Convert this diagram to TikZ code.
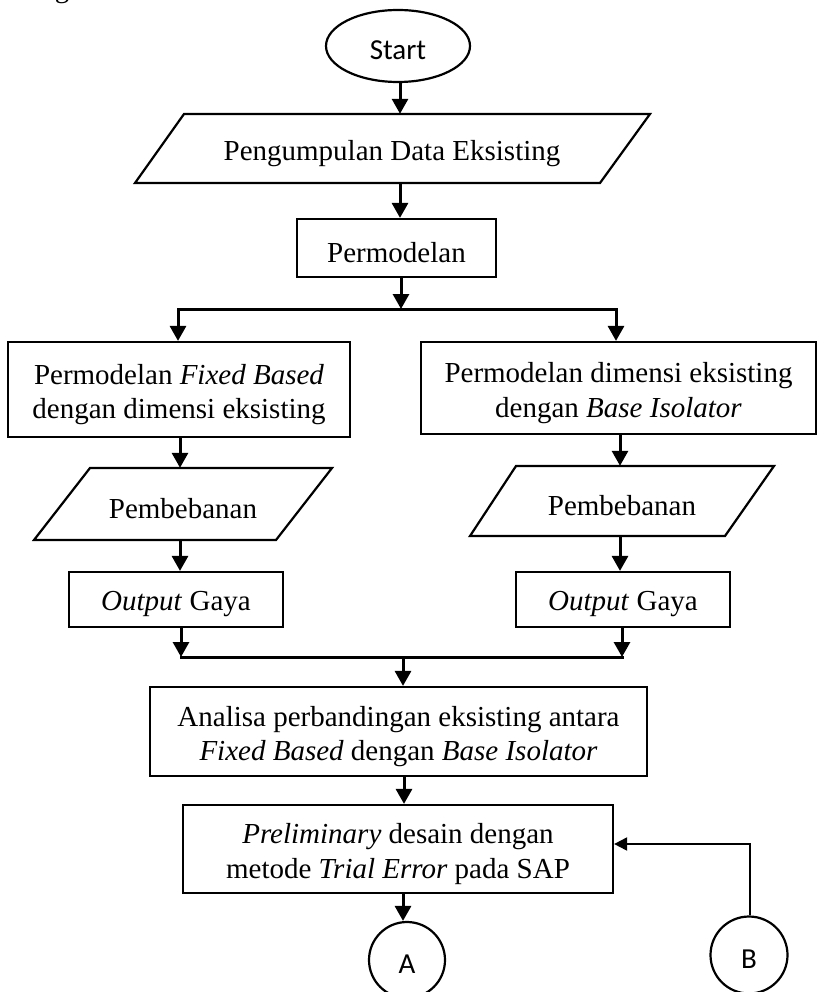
\documentclass[tikz,border=0pt]{standalone}
\usepackage{fontspec}
\setmainfont{Liberation Serif}
\newfontfamily\calibrifont{Carlito}
\usetikzlibrary{arrows.meta,shapes.geometric}

\begin{document}
\begin{tikzpicture}[x=1pt,y=-1pt,
  serif/.style={font=\fontsize{29}{34.5}\selectfont},
  plain/.style={inner sep=0pt,align=center,serif},
  txt/.style={label={[plain,yshift=-5pt]center:{#1}}},
  stxt/.style={label={[inner sep=0pt,font=\calibrifont\fontsize{29}{34}\selectfont,yshift=-4pt]center:{#1}}},
  box/.style={draw,line width=2.2pt,inner sep=0pt},
  slant/.style={line width=2.2pt,line join=miter},
  term/.style={draw,ellipse,line width=2.2pt,inner sep=0pt},
  flow/.style={line width=3pt,-{Triangle[length=15pt,width=16pt]}},
  link/.style={line width=3pt,line cap=rect},
  back/.style={line width=2pt,-{Triangle[length=13pt,width=13pt]}}
]
\useasboundingbox (0,0) rectangle (818,992);

% cut-off descender of the preceding line of text
\begin{scope}
  \clip (0,0) rectangle (818,992);
  \node[serif,anchor=base,inner sep=0pt] (gfrag) at (62,-2) {g};
\end{scope}

% column guides
\coordinate (cm) at (400,0);
\coordinate (cn) at (404,0);
\coordinate (cl) at (180,0);
\coordinate (cr) at (620,0);

% terminator
\node[term,minimum width=144pt,minimum height=72pt,stxt=Start] (start) at (398,46) {};

% data collection (parallelogram)
\draw[slant] (184,114) -- (650,114) -- (600,183) -- (135,183) -- cycle;
\node[minimum width=466pt,minimum height=69pt,inner sep=0pt,txt=Pengumpulan Data Eksisting] (data) at (392,148.5) {};

% modelling
\node[box,minimum width=199pt,minimum height=58pt,txt=Permodelan] (perm) at (396.5,248) {};

% two branches
\node[box,minimum width=342pt,minimum height=95pt,
  txt={Permodelan \textit{Fixed Based}\\dengan dimensi eksisting}] (fixed) at (179,389.5) {};
\node[box,minimum width=395pt,minimum height=92pt,
  txt={Permodelan dimensi eksisting\\dengan \textit{Base Isolator}}] (iso) at (618.5,388) {};

% loading (parallelograms)
\draw[slant] (90,468) -- (332,468) -- (276,540) -- (34,540) -- cycle;
\node[minimum width=242pt,minimum height=72pt,inner sep=0pt,txt=Pembebanan] (loadL) at (183,504) {};
\draw[slant] (516,466) -- (774,466) -- (725,536) -- (470,536) -- cycle;
\node[minimum width=258pt,minimum height=70pt,inner sep=0pt,txt=Pembebanan] (loadR) at (622,501) {};

% force output
\node[box,minimum width=214pt,minimum height=55pt,txt={\textit{Output} Gaya}] (outL) at (176,599.5) {};
\node[box,minimum width=214pt,minimum height=55pt,txt={\textit{Output} Gaya}] (outR) at (623,599.5) {};

% comparison
\node[box,minimum width=497pt,minimum height=89pt,
  txt={Analisa perbandingan eksisting antara\\\textit{Fixed Based} dengan \textit{Base Isolator}}] (ana) at (398.5,731.5) {};

% preliminary design
\node[box,minimum width=430pt,minimum height=88pt,
  txt={\textit{Preliminary} desain dengan\\metode \textit{Trial Error} pada SAP}] (pre) at (398,849) {};

% off-page connectors
\node[term,circle,minimum width=76pt,minimum height=72pt,stxt=A] (A) at (407,960) {};
\node[term,circle,minimum width=77pt,minimum height=72pt,stxt=B] (B) at (749,955) {};

% ---- connectors ----
\draw[flow] (start.south -| cm) -- (data.north -| cm);
\draw[flow] (data.south -| cm) -- (perm.north -| cm);

% split into the two branches
\coordinate (sp) at (401,309);
\coordinate (spL) at (178,309);
\coordinate (spR) at (616,309);
\draw[flow] (perm.south -| sp) -- (sp);
\draw[link] (spL) -- (spR);
\draw[flow] (spL) -- (fixed.north -| spL);
\draw[flow] (spR) -- (iso.north -| spR);

\draw[flow] (fixed.south -| cl) -- (loadL.north -| cl);
\draw[flow] (iso.south -| cr) -- (loadR.north -| cr);
\draw[flow] (loadL.south -| cl) -- (outL.north -| cl);
\draw[flow] (loadR.south -| cr) -- (outR.north -| cr);

% merge of the two branches
\coordinate (mgL) at (181,657);
\coordinate (mgR) at (622,657);
\coordinate (mg) at (403,657);
\draw[flow] (outL.south -| mgL) -- (mgL);
\draw[flow] (outR.south -| mgR) -- (mgR);
\draw[link] (mgL) -- (mgR);
\draw[flow] (mg) -- (ana.north -| mg);

\draw[flow] (ana.south -| cn) -- (pre.north -| cn);
\draw[flow] (pre.south -| mg) -- (A.north -| mg);

% return path from B
\coordinate (fb) at (750,844);
\draw[back] (B.north -| fb) -- (fb) -- (fb -| pre.east);
\end{tikzpicture}
\end{document}
